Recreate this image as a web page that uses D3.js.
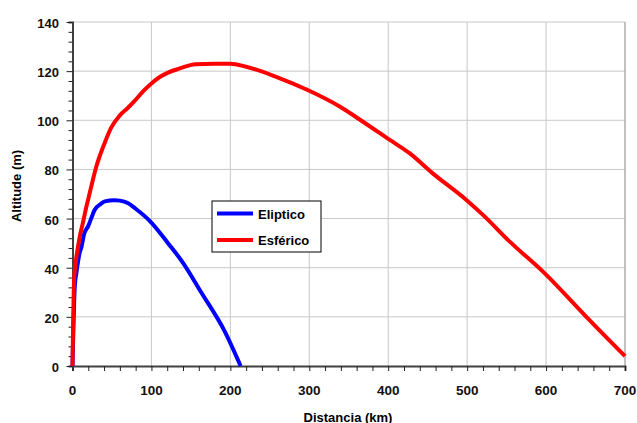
<!DOCTYPE html>
<html>
<head>
<meta charset="utf-8">
<script src="https://cdn.jsdelivr.net/npm/d3@7"></script>
<style>
  body { margin: 0; background: #fff; }
  svg { display: block; font-family: "Liberation Sans", Arial, sans-serif; }
</style>
</head>
<body>
<svg id="chart" width="637" height="423"></svg>
<script>
// trajectory data
var elipX = [0, 3, 5, 9, 11, 15, 20, 26, 28, 36, 41, 53, 60, 70, 80, 99, 121, 140, 163, 193, 213];
var elipY = [0, 33, 38, 46, 48, 54, 57, 62, 63.5, 66, 67, 67.5, 67.3, 66.3, 64, 58.7, 50, 42, 30, 14, 0];

var esfX = [0, 2, 4, 7, 10, 13, 17, 20, 26, 30, 34, 41, 49, 60, 70, 79, 90, 100, 110, 121, 135, 156, 180, 200, 220, 258, 298, 339, 368, 402, 427, 456, 499, 520, 554, 598, 651, 700];
var esfY = [0, 35, 42, 48.6, 54, 58, 64, 68, 76, 81, 85, 91, 97, 102, 105, 108, 112, 115, 117.5, 119.4, 121, 122.8, 123, 123, 121.8, 117.7, 112.3, 105.5, 99.4, 92, 86.6, 78.5, 67.6, 61.5, 50.6, 37.8, 20, 4];

var xTicks = [0, 100, 200, 300, 400, 500, 600, 700];
var yTicks = [0, 20, 40, 60, 80, 100, 120, 140];
var seriesNames = ["Eliptico", "Esférico"];
var seriesColors = ["#0000ff", "#ff0000"];

var svg = d3.select('#chart');
var pLeft = 72.5, pRight = 625, pTop = 22, pBottom = 366;

var x = d3.scaleLinear().domain([0, 700]).range([pLeft, pRight]);
var y = d3.scaleLinear().domain([0, 140]).range([pBottom, pTop]);

// grid
svg.append('g').selectAll('line').data(xTicks.slice(1)).join('line')
  .attr('x1', d => x(d)).attr('x2', d => x(d))
  .attr('y1', pTop).attr('y2', pBottom)
  .attr('stroke', '#c8c8c8').attr('stroke-width', 1);
svg.append('g').selectAll('line').data(yTicks.slice(1)).join('line')
  .attr('x1', pLeft).attr('x2', pRight)
  .attr('y1', d => y(d)).attr('y2', d => y(d))
  .attr('stroke', '#c8c8c8').attr('stroke-width', 1);
svg.append('line').attr('x1', pRight).attr('x2', pRight).attr('y1', pTop).attr('y2', pBottom)
  .attr('stroke', '#a0a0a0');

// axes
var xAxis = d3.axisBottom(x).tickValues(d3.range(0, 701, 20)).tickSize(5).tickFormat('');
var yAxis = d3.axisLeft(y).tickValues(d3.range(0, 141, 4)).tickSize(4).tickFormat('');
var gx = svg.append('g').attr('transform', 'translate(0,' + pBottom + ')').call(xAxis);
var gy = svg.append('g').attr('transform', 'translate(' + pLeft + ',0)').call(yAxis);
[gx, gy].forEach(function(g) {
  g.select('.domain').attr('stroke', '#404040').attr('stroke-width', 2);
  g.selectAll('.tick line').attr('stroke', '#202020');
});
gy.selectAll('.tick line').filter(d => d % 20 === 0).attr('x2', -6);

svg.append('g').selectAll('text').data(xTicks).join('text')
  .attr('x', d => x(d)).attr('y', 395)
  .attr('text-anchor', 'middle')
  .attr('font-size', 13.5).attr('font-weight', 'bold').attr('fill', '#111')
  .text(d => d);
svg.append('g').selectAll('text').data(yTicks).join('text')
  .attr('x', 59).attr('y', d => y(d) + 6)
  .attr('text-anchor', 'end')
  .attr('font-size', 13).attr('font-weight', 'bold').attr('fill', '#111')
  .text(d => d);

svg.append('text').attr('x', 348).attr('y', 422).attr('text-anchor', 'middle')
  .attr('font-size', 13).attr('font-weight', 'bold').text('Distancia (km)');
svg.append('text').attr('transform', 'translate(21,186) rotate(-90)').attr('text-anchor', 'middle')
  .attr('font-size', 13).attr('font-weight', 'bold').text('Altitude (m)');

// curves
var line = d3.line().x(d => x(d[0])).y(d => y(d[1])).curve(d3.curveMonotoneX);
var series = [d3.zip(elipX, elipY), d3.zip(esfX, esfY)];
series.forEach(function(s, i) {
  svg.append('path').attr('d', line(s))
    .attr('fill', 'none').attr('stroke', seriesColors[i])
    .attr('stroke-width', 4).attr('stroke-linejoin', 'round');
});

// legend
var lg = svg.append('g');
lg.append('rect').attr('x', 212).attr('y', 201).attr('width', 109).attr('height', 51)
  .attr('fill', '#fff').attr('stroke', '#000').attr('stroke-width', 1);
seriesNames.forEach(function(n, i) {
  var yy = 213.5 + i * 26.5;
  lg.append('line').attr('x1', 217).attr('x2', 253).attr('y1', yy).attr('y2', yy)
    .attr('stroke', seriesColors[i]).attr('stroke-width', 4);
  lg.append('text').attr('x', 258).attr('y', yy + 5)
    .attr('font-size', 13).attr('font-weight', 'bold').text(n);
});
</script>
</body>
</html>
